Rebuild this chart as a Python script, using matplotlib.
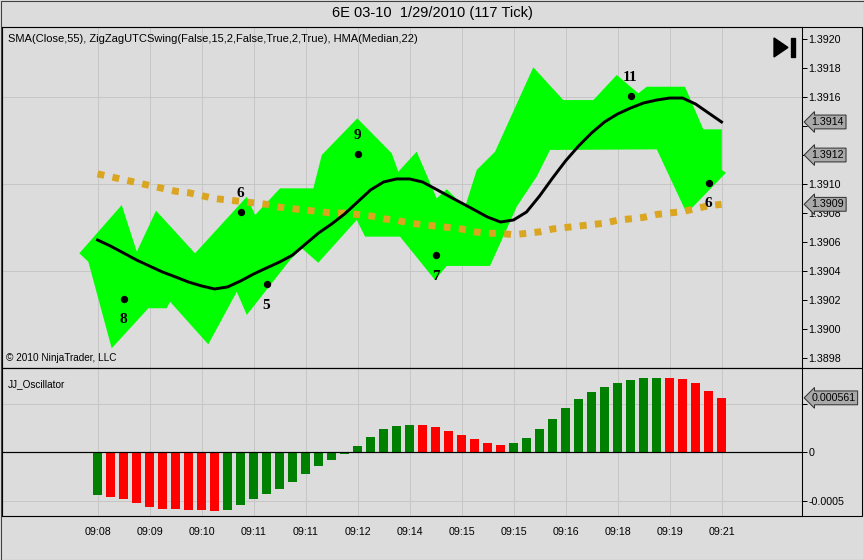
import matplotlib
matplotlib.use('Agg')
import matplotlib.pyplot as plt
from matplotlib.patches import Rectangle, Polygon
import numpy as np

plt.rcParams['font.family'] = ['Liberation Sans Narrow', 'Liberation Sans', 'DejaVu Sans']

# Data
bars = np.arange(49)
time_labels = ['09:08', '09:09', '09:10', '09:11', '09:11', '09:12', '09:14',
               '09:15', '09:15', '09:16', '09:18', '09:19', '09:21']

sma = [1.39107, 1.39105, 1.39103, 1.39101, 1.39099, 1.39097, 1.39095, 1.39094, 1.39092, 1.39090,
       1.39089, 1.39088, 1.39087, 1.39086, 1.39084, 1.39083, 1.39082, 1.39081, 1.39080, 1.39080,
       1.39079, 1.39078, 1.39076, 1.39075, 1.39073, 1.39072, 1.39071, 1.39070, 1.39069, 1.39067,
       1.39066, 1.39066, 1.39065, 1.39066, 1.39067, 1.39069, 1.39070, 1.39071, 1.39072, 1.39073,
       1.39075, 1.39076, 1.39077, 1.39079, 1.39080, 1.39081, 1.39083, 1.39085, 1.39086]

hma = [1.390614, 1.390572, 1.390524, 1.390476, 1.390434, 1.390393, 1.390359, 1.390324, 1.390297, 1.390276,
       1.390290, 1.390331, 1.390379, 1.390421, 1.390462, 1.390510, 1.390586, 1.390662, 1.390724, 1.390793,
       1.390876, 1.390959, 1.391014, 1.391035, 1.391035, 1.391014, 1.390966, 1.390917, 1.390869, 1.390821,
       1.390772, 1.390738, 1.390752, 1.390807, 1.390917, 1.391041, 1.391159, 1.391262, 1.391352, 1.391428,
       1.391483, 1.391524, 1.391559, 1.391579, 1.391593, 1.391593, 1.391552, 1.391490, 1.391428]

# zigzag channel outline (bar position, price)
band_up_x = [-1.40, 1.86, 3.02, 4.50, 7.50, 11.48, 12.12, 14.04, 16.60, 17.25, 19.98, 22.63, 23.14,
             24.55, 26.09, 26.86, 28.27, 29.17, 30.58, 33.52, 35.83, 38.14, 39.94, 41.60, 42.25,
             45.19, 46.60, 48.02, 48.02, 48.35]
band_up_p = [1.390522, 1.390855, 1.390533, 1.390816, 1.390522, 1.390912, 1.390786, 1.390970,
             1.390970, 1.391200, 1.391453, 1.391212, 1.391085, 1.391223, 1.390901, 1.390964,
             1.390841, 1.391097, 1.391223, 1.391805, 1.391579, 1.391579, 1.391752, 1.391626,
             1.391671, 1.391671, 1.391377, 1.391377, 1.391097, 1.391078]
band_lo_x = [-1.40, -0.71, 1.09, 3.91, 5.32, 5.58, 8.52, 10.71, 11.48, 14.81, 15.71, 16.98, 19.94,
             20.58, 23.27, 25.96, 26.86, 30.19, 32.25, 32.75, 33.78, 34.81, 43.02, 45.32, 48.35]
band_lo_p = [1.390522, 1.390464, 1.389867, 1.390143, 1.390143, 1.390188, 1.389894, 1.390257,
             1.390097, 1.390476, 1.390557, 1.390457, 1.390752, 1.390637, 1.390637, 1.390338,
             1.390435, 1.390435, 1.390844, 1.390912, 1.391050, 1.391235, 1.391239, 1.390798,
             1.391078]

swing_idx = [2, 11, 13, 20, 26, 41, 47]
swing_price = [1.39021, 1.39081, 1.39031, 1.39121, 1.39051, 1.39161, 1.39101]
swing_lbl = ['8', '6', '5', '9', '7', '11', '6']
swing_high = [0, 1, 0, 1, 0, 1, 0]

osc = [-0.000435, -0.000455, -0.000476, -0.000517, -0.000558, -0.000579, -0.000579, -0.000589, -0.000589, -0.000599,
       -0.000589, -0.000538, -0.000476, -0.000425, -0.000373, -0.000301, -0.000219, -0.000137, -0.000075, -0.000014,
       0.000068, 0.000158, 0.000240, 0.000270, 0.000280, 0.000280, 0.000260, 0.000219, 0.000178, 0.000137,
       0.000096, 0.000075, 0.000096, 0.000147, 0.000240, 0.000342, 0.000455, 0.000548, 0.000620, 0.000670,
       0.000712, 0.000743, 0.000764, 0.000764, 0.000764, 0.000753, 0.000712, 0.000630, 0.000561]
osc_up = [1, 0, 0, 0, 0, 0, 0, 0, 0, 0,
          1, 1, 1, 1, 1, 1, 1, 1, 1, 1,
          1, 1, 1, 1, 1, 0, 0, 0, 0, 0,
          0, 0, 1, 1, 1, 1, 1, 1, 1, 1,
          1, 1, 1, 1, 0, 0, 0, 0, 0]

last_close = 1.3912

# Layout (pixel helpers)
W, H = 864, 560
bg = '#DCDCDC'
grid_c = '#C6C6C6'


def fr(x0, y0, x1, y1):
    return [x0 / W, 1 - y1 / H, (x1 - x0) / W, (y1 - y0) / H]


fig = plt.figure(figsize=(W / 96, H / 96), dpi=96, facecolor=bg)
ax = fig.add_axes(fr(2, 27, 802, 368), facecolor=bg)
ax2 = fig.add_axes(fr(2, 368, 802, 516), facecolor=bg, sharex=ax)

# price panel
ax.fill(np.r_[band_up_x, band_lo_x[::-1]], np.r_[band_up_p, band_lo_p[::-1]],
        color='#00FF00', lw=0, zorder=2)
ax.plot(bars, sma, color='#DAA520', lw=5.2, ls=(0, (1, 1.2)), dash_capstyle='butt', zorder=3)
ax.plot(bars, hma, color='black', lw=2.2, zorder=4)
ax.plot(swing_idx, swing_price, 'o', color='black', ms=4.5, zorder=5)
for i, p, t, hi in zip(swing_idx, swing_price, swing_lbl, swing_high):
    ax.annotate(t, xy=(i, p), xytext=(0, 13.5 if hi else -16), textcoords='offset points',
                ha='center', va='center', fontsize=11.5, fontweight='bold',
                family=['Liberation Serif', 'DejaVu Serif'], zorder=6)

# last-value flags (they hide the tick labels underneath, as in the terminal)
flag_vals = [hma[-1], last_close, sma[-1]]

ax.set_xlim(-7.35, 54.19)
ax.set_ylim(1.389731, 1.392083)
ax.yaxis.tick_right()
yt = np.round(np.arange(1.3898, 1.39201, 0.0002), 4)
ax.set_yticks(yt)
hidden = [round(v, 4) for v in flag_vals[:2]]
ax.set_yticklabels(['' if v in hidden else f'{v:.4f}' for v in yt])
ax.set_xticks(bars[::4])
ax.tick_params(axis='x', bottom=False, labelbottom=False)
ax.tick_params(axis='y', length=3.5, width=0.75, pad=1.5, labelsize=8, colors='black')
ax.grid(axis='x', color=grid_c, lw=0.75)
for v in [1.3904, 1.3910, 1.3916]:
    ax.axhline(v, color=grid_c, lw=0.75, zorder=1)
ax.set_axisbelow(True)

# play/end icon
ax.add_patch(Polygon([[0.965, 0.968], [0.965, 0.912], [0.9825, 0.940]], closed=True,
                     transform=ax.transAxes, color='black', zorder=7))
ax.add_patch(Rectangle((0.9863, 0.912), 0.005, 0.056, transform=ax.transAxes,
                       color='black', zorder=7))

# oscillator panel
ax2.bar(bars, osc, width=0.7, color=['#008000' if u else '#FF0000' for u in osc_up], zorder=3)
ax2.axhline(0, color='black', lw=0.9, zorder=4)
for v in [-0.0005, 0.0005]:
    ax2.axhline(v, color=grid_c, lw=0.75, zorder=1)
ax2.set_ylim(-0.000654, 0.000868)
ax2.yaxis.tick_right()
ax2.set_yticks([-0.0005, 0, 0.0005])
ax2.set_yticklabels(['-0.0005', '0', ''])
ax2.set_xticks(bars[::4])
ax2.set_xticklabels(time_labels)
ax2.tick_params(axis='x', length=0, pad=8, labelsize=8)
ax2.tick_params(axis='y', length=3.5, width=0.75, pad=1.5, labelsize=8, colors='black')
ax2.grid(axis='x', color=grid_c, lw=0.75)
ax2.set_axisbelow(True)

for a in (ax, ax2):
    for s in a.spines.values():
        s.set_color('black')
        s.set_linewidth(0.8)

flag = dict(boxstyle='larrow,pad=0.18', fc='#A9A9A9', ec='#303030', lw=0.75)
for v in flag_vals:
    ax.text(1.012, v, f'{v:.4f}', transform=ax.get_yaxis_transform(), ha='left', va='center',
            fontsize=8, bbox=flag, zorder=10, clip_on=False)
ax2.text(1.012, osc[-1], f'{osc[-1]:.6f}', transform=ax2.get_yaxis_transform(), ha='left',
         va='center', fontsize=8, bbox=flag, zorder=10, clip_on=False)

# panel frames
for y0, y1 in [(27, 368), (368, 516)]:
    fig.add_artist(Rectangle((2 / W, 1 - y1 / H), 860 / W, (y1 - y0) / H, transform=fig.transFigure,
                             fill=False, ec='black', lw=0.8))
fig.add_artist(Rectangle((0.5 / W, 1 - 559.5 / H), 863 / W, 559 / H, transform=fig.transFigure,
                         fill=False, ec='#404040', lw=0.8))

# texts
fig.text(432 / W, 1 - 13 / H, '6E 03-10  1/29/2010 (117 Tick)', ha='center', va='center', fontsize=11)
fig.text(8 / W, 1 - 39 / H, 'SMA(Close,55), ZigZagUTCSwing(False,15,2,False,True,2,True), HMA(Median,22)',
         ha='left', va='center', fontsize=8.3)
fig.text(6 / W, 1 - 358 / H, '\u00a9 2010 NinjaTrader, LLC', ha='left', va='center', fontsize=7.5)
fig.text(8 / W, 1 - 384 / H, 'JJ_Oscillator', ha='left', va='center', fontsize=7.5)

plt.savefig('out.png', dpi=96, facecolor=bg)
